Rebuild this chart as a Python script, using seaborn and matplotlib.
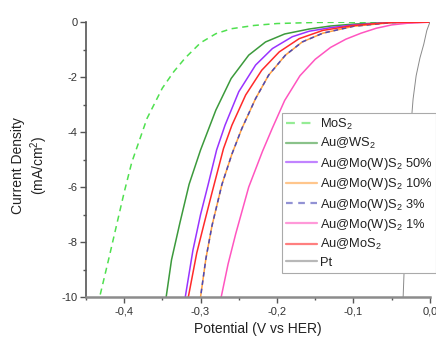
import matplotlib
matplotlib.use('Agg')
import matplotlib.pyplot as plt
import seaborn as sns
import pandas as pd
from matplotlib.ticker import MultipleLocator, FuncFormatter

# polarization curves (potential V vs HER, current mA/cm2)
mos2_v = [0.0, -0.10, -0.15, -0.20, -0.23, -0.26, -0.28, -0.30, -0.32, -0.335, -0.35, -0.37, -0.39, -0.40, -0.41, -0.42, -0.432]
mos2_j = [0.0, -0.002, -0.01, -0.05, -0.12, -0.24, -0.42, -0.75, -1.3, -1.8, -2.4, -3.5, -5.1, -6.2, -7.4, -8.6, -10.0]

auws2_v = [0.0, -0.05, -0.10, -0.13, -0.158, -0.19, -0.215, -0.237, -0.26, -0.28, -0.30, -0.315, -0.327, -0.338, -0.345]
auws2_j = [0.0, -0.01, -0.07, -0.14, -0.25, -0.43, -0.72, -1.2, -2.05, -3.2, -4.65, -5.9, -7.3, -8.65, -10.0]

w50_v = [0.0, -0.05, -0.10, -0.13, -0.158, -0.18, -0.206, -0.228, -0.25, -0.268, -0.279, -0.29, -0.30, -0.31, -0.32]
w50_j = [0.0, -0.01, -0.10, -0.20, -0.33, -0.53, -0.96, -1.56, -2.53, -3.75, -4.65, -5.9, -7.0, -8.3, -10.0]

w10_v = [0.0, -0.05, -0.10, -0.14, -0.167, -0.189, -0.211, -0.228, -0.246, -0.259, -0.272, -0.285, -0.293, -0.30]
w10_j = [0.0, -0.015, -0.15, -0.40, -0.72, -1.2, -1.93, -2.78, -3.87, -4.8, -5.9, -7.4, -8.6, -10.0]

w3_v = [0.0, -0.05, -0.10, -0.14, -0.167, -0.189, -0.211, -0.228, -0.246, -0.259, -0.272, -0.285, -0.293, -0.30]
w3_j = [0.0, -0.015, -0.15, -0.40, -0.72, -1.2, -1.93, -2.78, -3.87, -4.8, -5.9, -7.4, -8.6, -10.0]

w1_v = [0.0, -0.03, -0.05, -0.07, -0.09, -0.11, -0.13, -0.15, -0.17, -0.19, -0.206, -0.219, -0.237, -0.254, -0.264, -0.273]
w1_j = [0.0, -0.04, -0.10, -0.22, -0.40, -0.62, -0.92, -1.35, -1.95, -2.85, -3.85, -4.7, -6.0, -7.7, -8.8, -10.0]

aumos2_v = [0.0, -0.05, -0.10, -0.14, -0.171, -0.197, -0.22, -0.241, -0.259, -0.27, -0.285, -0.296, -0.305, -0.316]
aumos2_j = [0.0, -0.01, -0.12, -0.30, -0.60, -1.08, -1.75, -2.65, -3.75, -4.6, -6.2, -7.4, -8.4, -10.0]

pt_v = [0.0, -0.004, -0.008, -0.013, -0.018, -0.022, -0.026, -0.030, -0.033, -0.035]
pt_j = [0.0, -0.3, -0.8, -1.3, -1.95, -2.8, -4.2, -6.5, -8.5, -10.0]

labels = ['MoS$_2$', 'Au@WS$_2$', 'Au@Mo(W)S$_2$ 50%', 'Au@Mo(W)S$_2$ 10%',
          'Au@Mo(W)S$_2$ 3%', 'Au@Mo(W)S$_2$ 1%', 'Au@MoS$_2$', 'Pt']
series = [(mos2_v, mos2_j), (auws2_v, auws2_j), (w50_v, w50_j), (w10_v, w10_j),
          (w3_v, w3_j), (w1_v, w1_j), (aumos2_v, aumos2_j), (pt_v, pt_j)]
colors = ['#4fe04f', '#3c9a3c', '#9933ff', '#ffa040', '#4a4ab8', '#ff55c0', '#ff2a2a', '#8a8a8a']
styles = [(0, (4, 3)), '-', '-', '-', (0, (3, 2.5)), '-', '-', '-']
widths = [1.1, 1.1, 1.1, 1.1, 1.1, 1.1, 1.1, 0.7]

sns.set_style('ticks')
plt.rcParams['font.family'] = ['Liberation Sans', 'DejaVu Sans']
plt.rcParams['mathtext.fontset'] = 'custom'
plt.rcParams['mathtext.rm'] = 'Liberation Sans'
plt.rcParams['mathtext.it'] = 'Liberation Sans:italic'

fig = plt.figure(figsize=(4.36, 3.41), dpi=100)
ax = fig.add_axes([0.197, 0.129, 0.789, 0.806])

for (v, j), lab, c, ls, lw in zip(series, labels, colors, styles, widths):
    df = pd.DataFrame({'V': v, 'J': j})
    sns.lineplot(data=df, x='V', y='J', ax=ax, color=c, linestyle=ls, lw=lw,
                 label=lab, sort=False, estimator=None)

ax.set_xlim(-0.45, 0.0)
ax.set_ylim(-10, 0)
ax.xaxis.set_major_locator(MultipleLocator(0.1))
ax.xaxis.set_minor_locator(MultipleLocator(0.05))
ax.yaxis.set_major_locator(MultipleLocator(2))
ax.yaxis.set_minor_locator(MultipleLocator(1))
ax.xaxis.set_major_formatter(FuncFormatter(lambda x, p: f'{x:.1f}'.replace('.', ',').replace('-0,0', '0,0')))
ax.yaxis.set_major_formatter(FuncFormatter(lambda y, p: f'{y:.0f}'))

for s in ['top', 'right']:
    ax.spines[s].set_visible(False)
ax.spines['bottom'].set_color('#8c8c8c')
ax.spines['bottom'].set_linewidth(1.8)
ax.spines['left'].set_color('#555555')
ax.spines['left'].set_linewidth(1.2)
ax.tick_params(axis='x', which='major', direction='out', length=4, width=1, colors='#555555', labelsize=8, labelcolor='#333333', pad=3)
ax.tick_params(axis='x', which='minor', direction='out', length=2.5, width=1, colors='#555555')
ax.tick_params(axis='y', which='major', direction='out', length=4, width=1, colors='#555555', labelsize=8, labelcolor='#333333', pad=2)
ax.tick_params(axis='y', which='minor', direction='out', length=2.5, width=1, colors='#555555')

ax.set_xlabel('Potential (V vs HER)', fontsize=10, color='#222222', labelpad=4)
ax.set_ylabel('Current Density\n(mA/cm$^2$)', fontsize=10, color='#222222')
ax.yaxis.set_label_coords(-0.105, 0.48)

leg = ax.legend(loc='upper left', bbox_to_anchor=(0.647, 0.669), bbox_transform=fig.transFigure,
                borderaxespad=0, fontsize=9.3, frameon=True, fancybox=False, framealpha=1,
                edgecolor='#aaaaaa', borderpad=0.3, labelspacing=0.34, handlelength=2.4,
                handletextpad=0.25)
leg.get_frame().set_linewidth(0.8)
for h in leg.legend_handles:
    h.set_alpha(0.6)
    h.set_linewidth(1.6)
for t in leg.get_texts():
    t.set_color('#222222')

fig.savefig('out.png', dpi=100)
